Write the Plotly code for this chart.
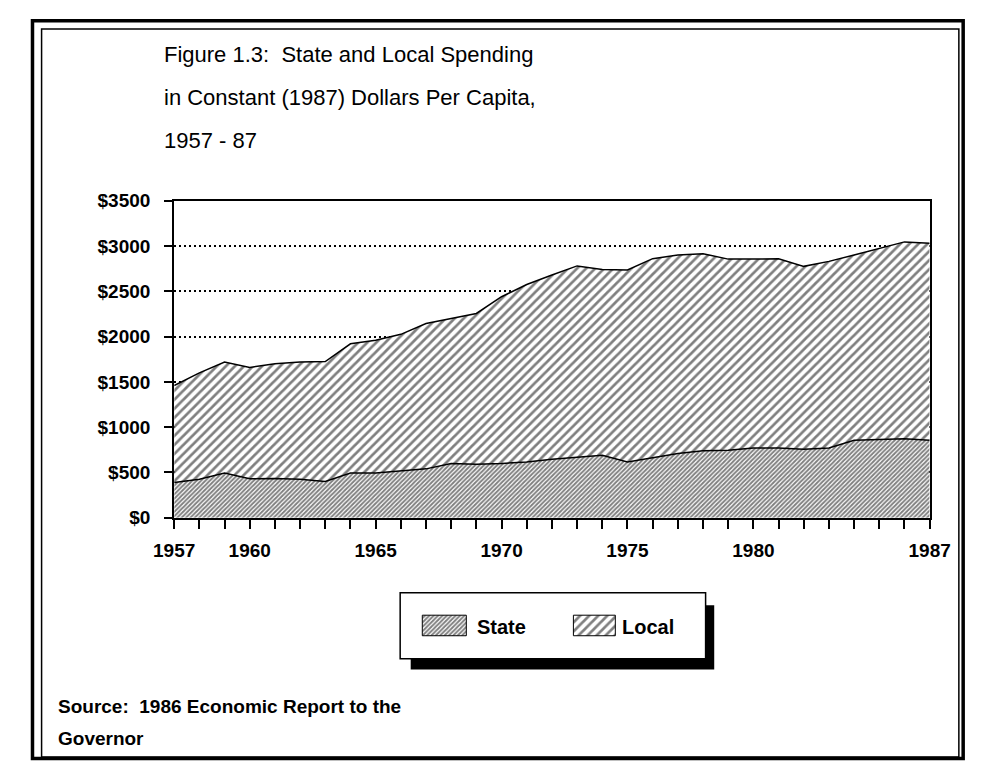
import plotly.graph_objects as go

# ---- data: per-capita spending in constant 1987 dollars ----
years = list(range(1957, 1988))
state = [390, 425, 495, 430, 435, 425, 400, 495, 495, 515, 540, 600, 592, 600, 615,
         645, 667, 690, 615, 665, 710, 740, 745, 770, 770, 757, 770, 855, 862, 872, 855]
local = [1070, 1175, 1225, 1230, 1265, 1295, 1325, 1425, 1465, 1510, 1605, 1600, 1663,
         1840, 1960, 2035, 2113, 2050, 2120, 2195, 2190, 2175, 2110, 2085, 2090, 2018,
         2060, 2045, 2108, 2173, 2175]
x_labeled = [1957, 1960, 1965, 1970, 1975, 1980, 1987]
y_ticks = [0, 500, 1000, 1500, 2000, 2500, 3000, 3500]
y_tick_labels = ["$0", "$500", "$1000", "$1500", "$2000", "$2500", "$3000", "$3500"]
series_names = ["State", "Local"]

title_lines = ["Figure 1.3:  State and Local Spending",
               "in Constant (1987) Dollars Per Capita,",
               "1957 - 87"]
source_lines = ["Source:  1986 Economic Report to the", "Governor"]

W, H = 988, 772
FONT = "Liberation Sans, Arial, sans-serif"


def px(x):
    return x / W


def py(y):
    return 1 - y / H


# hatch fills: dense fine hatch for State, open heavy hatch for Local
state_pat = dict(shape="/", fgcolor="black", bgcolor="white", size=3.1, solidity=0.62)
local_pat = dict(shape="/", fgcolor="black", bgcolor="white", size=6.4, solidity=0.42)

fig = go.Figure()
fig.add_trace(go.Scatter(x=years, y=state, name=series_names[0], stackgroup="s",
                         mode="lines", line=dict(color="black", width=1.5),
                         fillpattern=state_pat, fillcolor="white"))
fig.add_trace(go.Scatter(x=years, y=local, name=series_names[1], stackgroup="s",
                         mode="lines", line=dict(color="black", width=1.5),
                         fillpattern=local_pat, fillcolor="white"))

# legend swatches on their own small axes
sw = [(0.067, 0.213), (0.568, 0.707)]
for (x0, x1), pat in zip(sw, [state_pat, local_pat]):
    fig.add_trace(go.Scatter(x=[x0, x1, x1, x0, x0], y=[0.34, 0.34, 0.67, 0.67, 0.34],
                             fill="toself", fillpattern=pat, fillcolor="white",
                             mode="lines", line=dict(color="black", width=1),
                             xaxis="x2", yaxis="y2", showlegend=False, hoverinfo="skip"))

ticktext = [str(y) if y in x_labeled else "" for y in years]

fig.update_layout(
    width=W, height=H,
    margin=dict(l=0, r=0, t=0, b=0),
    paper_bgcolor="white", plot_bgcolor="white",
    showlegend=False,
    font=dict(family=FONT, color="black"),
    xaxis=dict(domain=[px(160), px(949)], range=[1957, 1987],
               tickvals=years, ticktext=ticktext,
               ticks="outside", ticklen=9, tickwidth=1.5, tickcolor="black",
               showline=True, linecolor="black", linewidth=2, mirror=True,
               showgrid=False, zeroline=False, ticklabelstandoff=5,
               tickfont=dict(family=FONT, size=19, weight="bold")),
    yaxis=dict(domain=[py(522), py(196)], range=[0, 3500],
               tickvals=y_ticks, ticktext=y_tick_labels,
               ticks="outside", ticklen=8, tickwidth=1.5, tickcolor="black",
               showline=True, linecolor="black", linewidth=2, mirror=True,
               showgrid=True, gridcolor="black", gridwidth=1.5, griddash="2px,3px",
               zeroline=False, ticklabelstandoff=10,
               tickfont=dict(family=FONT, size=19, weight="bold")),
    xaxis2=dict(domain=[px(398), px(713)], range=[0, 1], visible=False,
                fixedrange=True, anchor="y2"),
    yaxis2=dict(domain=[py(665), py(601)], range=[0, 1], visible=False,
                fixedrange=True, anchor="x2"),
)

shapes = [
    # outer frame
    dict(type="rect", xref="paper", yref="paper", x0=px(12), x1=px(984), y0=py(769.5), y1=py(11),
         line=dict(color="black", width=3.5), layer="above"),
    dict(type="rect", xref="paper", yref="paper", x0=px(21.5), x1=px(979.5), y0=py(768), y1=py(19.5),
         line=dict(color="black", width=1.5), layer="above"),
    # legend box shadow and box
    dict(type="rect", xref="paper", yref="paper", x0=px(407), x1=px(724), y0=py(678), y1=py(612),
         fillcolor="black", line=dict(width=0), layer="below"),
    dict(type="rect", xref="paper", yref="paper", x0=px(396), x1=px(715), y0=py(667), y1=py(599),
         fillcolor="white", line=dict(color="black", width=1.5), layer="below"),
]
fig.update_layout(shapes=shapes)

ann = []
for i, t in enumerate(title_lines):
    ann.append(dict(text=t, xref="paper", yref="paper", x=px(147), y=py(46 + 44 * i),
                    xanchor="left", yanchor="middle", showarrow=False,
                    font=dict(family=FONT, size=22, color="black")))
for i, t in enumerate(source_lines):
    ann.append(dict(text=t, xref="paper", yref="paper", x=px(37), y=py(716 + 33 * i),
                    xanchor="left", yanchor="middle", showarrow=False,
                    font=dict(family=FONT, size=19, color="black", weight="bold")))
for name, xl in zip(series_names, [474, 626]):
    ann.append(dict(text=name, xref="paper", yref="paper", x=px(xl), y=py(634),
                    xanchor="left", yanchor="middle", showarrow=False,
                    font=dict(family=FONT, size=20, color="black", weight="bold")))
fig.update_layout(annotations=ann)

fig.write_html("out.html")
